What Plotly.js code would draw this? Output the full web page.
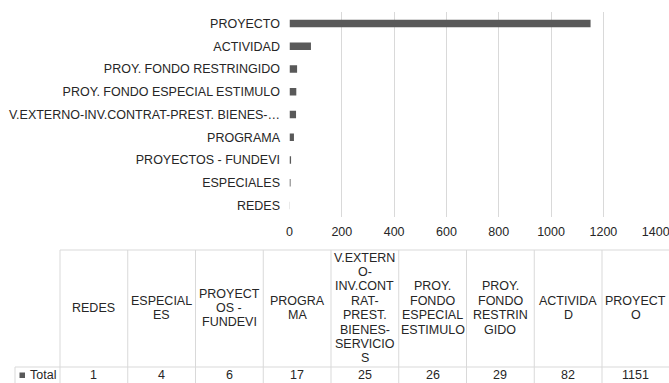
<!DOCTYPE html>
<html>
<head>
<meta charset="utf-8">
<script src="https://cdn.plot.ly/plotly-3.0.1.min.js"></script>
<style>
  html, body { margin: 0; padding: 0; background: #ffffff; }
  #chart { width: 669px; height: 383px; }
</style>
</head>
<body>
<div id="chart"></div>
<script>
// Record counts per type, smallest first (bottom of the bar chart, left of the table)
const categories = [
  "REDES",
  "ESPECIALES",
  "PROYECTOS - FUNDEVI",
  "PROGRAMA",
  "V.EXTERNO-INV.CONTRAT-PREST. BIENES-SERVICIOS",
  "PROY. FONDO ESPECIAL ESTIMULO",
  "PROY. FONDO RESTRINGIDO",
  "ACTIVIDAD",
  "PROYECTO"
];
const totals = [1, 4, 6, 17, 25, 26, 29, 82, 1151];
const seriesName = "Total";

// Axis labels (the long one is cut short on the axis)
const axisLabels = [
  "REDES",
  "ESPECIALES",
  "PROYECTOS - FUNDEVI",
  "PROGRAMA",
  "V.EXTERNO-INV.CONTRAT-PREST. BIENES-…",
  "PROY. FONDO ESPECIAL ESTIMULO",
  "PROY. FONDO RESTRINGIDO",
  "ACTIVIDAD",
  "PROYECTO"
];
// Header text of the data table, wrapped to the column width
const tableHeaders = [
  ["REDES"],
  ["ESPECIAL", "ES"],
  ["PROYECT", "OS -", "FUNDEVI"],
  ["PROGRA", "MA"],
  ["V.EXTERN", "O-", "INV.CONT", "RAT-", "PREST.", "BIENES-", "SERVICIO", "S"],
  ["PROY.", "FONDO", "ESPECIAL", "ESTIMULO"],
  ["PROY.", "FONDO", "RESTRIN", "GIDO"],
  ["ACTIVIDA", "D"],
  ["PROYECT", "O"]
];
const xTicks = [0, 200, 400, 600, 800, 1000, 1200, 1400];

// Page geometry (pixels)
const W = 669, H = 383;
const plotLeft = 289.5, plotRight = 655.7, plotTop = 12, plotBottom = 217;
const tableLeft = 60, tableLabelLeft = 15, colWidth = 67.75;
const headerTop = 250, rowTop = 367, tableBottom = 383;
const headerMid = 308, rowMid = 375, lineStep = 14.4;

const barColor = "#595959";
const gridColor = "#d9d9d9";
const textColor = "#262626";
const font = { family: "'Liberation Sans', Arial, sans-serif", size: 12.5, color: textColor };

const px = x => x / W;
const py = y => 1 - y / H;

const shapes = [];
const annotations = [];

function hline(x0, x1, y) {
  shapes.push({ type: "line", xref: "paper", yref: "paper",
    x0: px(x0), x1: px(x1), y0: py(y), y1: py(y),
    line: { color: gridColor, width: 1 } });
}
function vline(x, y0, y1) {
  shapes.push({ type: "line", xref: "paper", yref: "paper",
    x0: px(x), x1: px(x), y0: py(y0), y1: py(y1),
    line: { color: gridColor, width: 1 } });
}

// Table grid
hline(tableLeft, W + 2, headerTop);
hline(tableLabelLeft, W + 2, rowTop);
vline(tableLabelLeft, rowTop, tableBottom);
for (let i = 0; i < categories.length; i++) {
  vline(tableLeft + i * colWidth, headerTop, tableBottom);
}

// Table header text, one line per annotation
tableHeaders.forEach((lines, i) => {
  const cx = tableLeft + (i + 0.5) * colWidth;
  const start = headerMid - (lines.length - 1) * lineStep / 2;
  lines.forEach((t, k) => {
    annotations.push({ xref: "paper", yref: "paper",
      x: px(cx), y: py(start + k * lineStep),
      text: t, showarrow: false, xanchor: "center", yanchor: "middle",
      font: font });
  });
});

// Table value row
totals.forEach((v, i) => {
  const cx = tableLeft + (i + 0.5) * colWidth;
  annotations.push({ xref: "paper", yref: "paper",
    x: px(cx), y: py(rowMid), text: String(v), showarrow: false,
    xanchor: "center", yanchor: "middle", font: font });
});

// Series key and name
shapes.push({ type: "rect", xref: "paper", yref: "paper",
  x0: px(19.5), x1: px(25), y0: py(378), y1: py(372.5),
  fillcolor: barColor, line: { width: 0 } });
annotations.push({ xref: "paper", yref: "paper",
  x: px(27.5), y: py(rowMid), text: seriesName, showarrow: false,
  xanchor: "left", yanchor: "middle", font: font });

const trace = {
  type: "bar",
  orientation: "h",
  x: totals,
  y: categories,
  name: seriesName,
  marker: { color: barColor },
  hoverinfo: "x+y"
};

const layout = {
  width: W,
  height: H,
  margin: { l: 0, r: 0, t: 0, b: 0, pad: 0 },
  paper_bgcolor: "#ffffff",
  plot_bgcolor: "#ffffff",
  showlegend: false,
  bargap: 0.67,
  font: font,
  xaxis: {
    domain: [px(plotLeft), px(plotRight)],
    range: [0, 1400],
    tickvals: xTicks,
    ticks: "outside",
    ticklen: 3,
    tickcolor: "rgba(0,0,0,0)",
    ticklabeloverflow: "allow",
    showgrid: true,
    gridcolor: gridColor,
    gridwidth: 1,
    zeroline: false,
    showline: false,
    fixedrange: true,
    tickfont: font
  },
  yaxis: {
    domain: [py(plotBottom), py(plotTop)],
    type: "category",
    categoryorder: "array",
    categoryarray: categories,
    tickvals: categories,
    ticktext: axisLabels,
    ticks: "outside",
    ticklen: 6,
    tickcolor: "rgba(0,0,0,0)",
    showgrid: false,
    zeroline: false,
    showline: false,
    fixedrange: true,
    tickfont: font
  },
  shapes: shapes,
  annotations: annotations
};

Plotly.newPlot("chart", [trace], layout, { displayModeBar: false, staticPlot: true });
</script>
</body>
</html>
